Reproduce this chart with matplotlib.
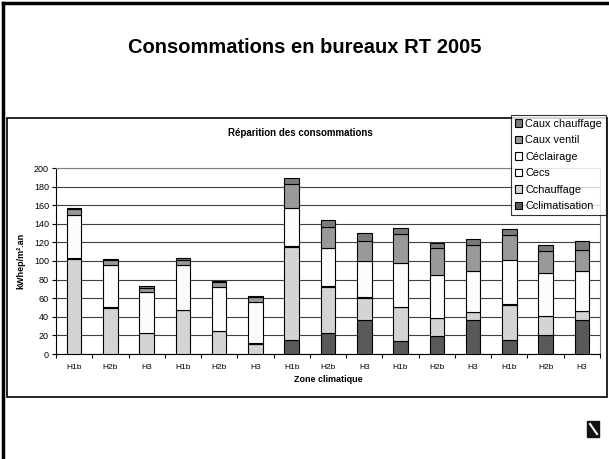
import numpy as np
import matplotlib.pyplot as plt
from matplotlib.patches import Rectangle
from matplotlib.lines import Line2D

plt.rcParams['font.family'] = ['Liberation Sans', 'DejaVu Sans']

# data (kWhep/m².an)
zones = ['H1b', 'H2b', 'H3'] * 5
c_clim = [0, 0, 0, 0, 0, 0, 15.4, 22.1, 36.4, 13.6, 19.3, 36.1, 14.6, 20.4, 36.1]
c_chauff = [102.6, 49.7, 22.2, 47.2, 24.7, 11.1, 100.0, 50.0, 24.0, 36.8, 18.9, 8.9, 38.3, 20.3, 9.6]
c_ecs = [0.5] * 15
c_eclair = [46.7, 46.0, 44.1, 47.7, 46.7, 43.8, 41.4, 41.3, 38.7, 47.0, 46.7, 43.4, 48.0, 45.9, 43.4]
c_aux_ventil = [5.7, 4.8, 4.5, 6.1, 5.3, 6.0, 25.7, 23.1, 22.2, 31.4, 28.5, 28.6, 26.1, 23.3, 22.5]
c_aux_chauff = [1.8, 1.6, 1.3, 2.2, 1.4, 0.8, 6.5, 6.7, 8.2, 6.1, 5.4, 6.4, 6.8, 7.1, 9.0]

series = [
    ('Cclimatisation', c_clim, '#595959'),
    ('Cchauffage', c_chauff, '#d4d4d4'),
    ('Cecs', c_ecs, '#ffffff'),
    ('Céclairage', c_eclair, '#fcfcfc'),
    ('Caux ventil', c_aux_ventil, '#999999'),
    ('Caux chauffage', c_aux_chauff, '#7a7a7a'),
]

fig = plt.figure(figsize=(6.09, 4.59), dpi=100)

# slide frame
fig.add_artist(Line2D([0.005, 0.005], [0, 0.994], color='black', lw=2.5, transform=fig.transFigure))
fig.add_artist(Line2D([0.005, 1.0], [0.994, 0.994], color='black', lw=2.5, transform=fig.transFigure))
fig.text(0.5, 0.897, 'Consommations en bureaux RT 2005', ha='center', va='center',
         fontsize=14.5, fontweight='bold')

# chart box
fig.add_artist(Rectangle((0.011, 1 - 397 / 459), 0.985, (397 - 118) / 459, fill=False,
                         edgecolor='black', lw=1.2, transform=fig.transFigure))

ax = fig.add_axes([56 / 609, 1 - 354 / 459, (600 - 56) / 609, (354 - 168) / 459])
x = np.arange(len(zones))
bottom = np.zeros(len(zones))
handles = []
for name, vals, col in series:
    vals = np.array(vals)
    b = ax.bar(x, vals, 0.4, bottom=bottom, color=col, edgecolor='black', linewidth=0.8,
               label=name, zorder=3)
    handles.append(b)
    bottom += vals

ax.set_xlim(-0.5, len(zones) - 0.5)
ax.set_ylim(0, 200)
ax.set_yticks(np.arange(0, 201, 20))
ax.tick_params(axis='y', labelsize=6.5, length=3, width=0.8, pad=2)
ax.set_xticks(np.arange(len(zones) + 1) - 0.5)
ax.set_xticklabels([])
ax.set_xticks(x, minor=True)
ax.set_xticklabels(zones, minor=True, fontsize=6)
ax.tick_params(axis='x', which='major', length=3, width=0.8)
ax.tick_params(axis='x', which='minor', length=0, pad=7)
ax.grid(axis='y', color='#404040', lw=0.8, zorder=0)
ax.spines['top'].set_color('#808080')
ax.spines['right'].set_color('#808080')
ax.spines['left'].set_linewidth(0.8)
ax.spines['bottom'].set_linewidth(0.8)

ax.set_ylabel('kWhep/m².an', fontsize=6.5, fontweight='bold', labelpad=6)
ax.set_xlabel('Zone climatique', fontsize=6.5, fontweight='bold', labelpad=3)
fig.text(0.493, 1 - 133 / 459, 'Réparition des consommations', ha='center', va='center',
         fontsize=7, fontweight='bold')

leg = fig.legend(handles[::-1], [s[0] for s in series][::-1], loc='upper right',
                 bbox_to_anchor=(606 / 609, 1 - 115 / 459), fontsize=7.8, frameon=True,
                 fancybox=False, edgecolor='black', handlelength=0.7, handleheight=0.7,
                 handletextpad=0.3, labelspacing=0.6, borderpad=0.35, borderaxespad=0)
leg.get_frame().set_linewidth(0.8)

# small logo bottom right
fig.add_artist(Rectangle((587 / 609, 1 - 437 / 459), 12 / 609, 16 / 459, color='#111111',
                         transform=fig.transFigure))
fig.add_artist(Line2D([590 / 609, 597 / 609], [1 - 424 / 459, 1 - 434 / 459], color='white',
                      lw=1.5, transform=fig.transFigure))

fig.savefig('out.png', dpi=100)
